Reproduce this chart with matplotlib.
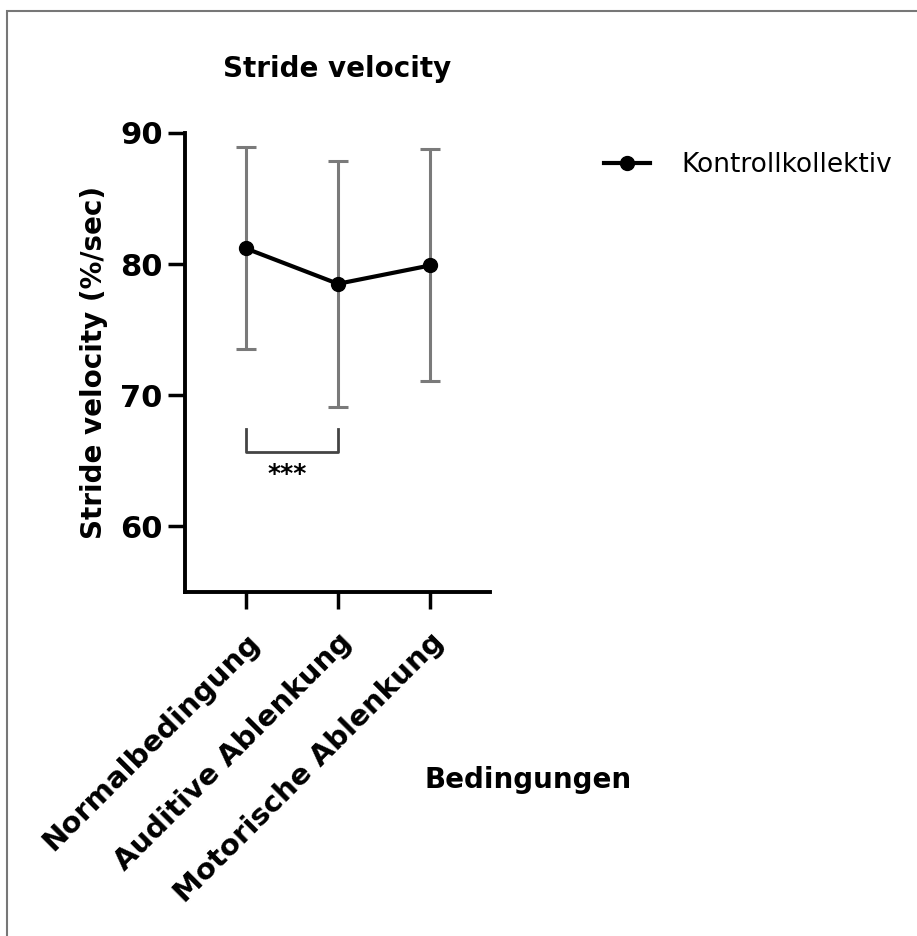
import matplotlib.pyplot as plt
from matplotlib.patches import Rectangle

plt.rcParams['font.family'] = ['DejaVu Sans']

conditions = ["Normalbedingung", "Auditive Ablenkung", "Motorische Ablenkung"]
means = [81.2, 78.5, 79.9]
err_low = [73.5, 69.1, 71.1]
err_high = [88.9, 87.9, 88.8]
yticks = [60, 70, 80, 90]

W, H = 917, 936
fig = plt.figure(figsize=(W / 100, H / 100), dpi=100)

# outer frame (only top and left visible in the original)
fig.patches.append(Rectangle((7 / W, -0.1), 1.2, 1 - 11 / H + 0.1, transform=fig.transFigure,
                             fill=False, edgecolor="#777777", linewidth=1.5))

ax = fig.add_axes([185 / W, 1 - 592 / H, (490 - 185) / W, (592 - 133) / H])
x = list(range(len(conditions)))
yerr = [[m - l for m, l in zip(means, err_low)], [h - m for m, h in zip(means, err_high)]]
ax.errorbar(x, means, yerr=yerr, fmt="none", ecolor="#7a7a7a", elinewidth=2.2,
            capsize=7, capthick=2.2, zorder=2)
ax.plot(x, means, color="black", lw=3, marker="o", markersize=10, zorder=3,
        label="Kontrollkollektiv")

ax.set_xlim(-0.66, 2.65)
ax.set_ylim(55, 90)
ax.set_yticks(yticks)
ax.set_xticks(x)
ax.set_xticklabels(conditions, rotation=45, ha="right", rotation_mode="anchor",
                   fontsize=21, fontweight="bold")
for lab in ax.get_yticklabels():
    lab.set_fontsize(22)
    lab.set_fontweight("bold")
ax.tick_params(direction="out", length=12, width=2.5, pad=4)
ax.tick_params(axis="x", pad=14)
ax.spines["top"].set_visible(False)
ax.spines["right"].set_visible(False)
ax.spines["left"].set_linewidth(2.8)
ax.spines["bottom"].set_linewidth(2.8)
ax.spines["left"].set_bounds(55, 90)

ax.set_title("Stride velocity", fontsize=20, fontweight="bold", pad=40)
ax.set_ylabel("Stride velocity (%/sec)", fontsize=20, fontweight="bold", labelpad=9)
ax.set_xlabel("Bedingungen", fontsize=20, fontweight="bold")
ax.xaxis.set_label_coords((528 - 185) / (490 - 185), (592 - 766) / (592 - 133))

# significance bracket
ax.plot([0, 0, 1, 1], [67.4, 65.7, 65.7, 67.4], color="#444444", lw=2, clip_on=False)
ax.text(0.45, 64.0, "***", ha="center", va="center", fontsize=18, fontweight="bold")

leg = ax.legend(loc="upper left", bbox_to_anchor=(580 / W, 1 - 128 / H),
                bbox_transform=fig.transFigure, frameon=False, fontsize=19,
                handlelength=1.75, handletextpad=1.2)

fig.savefig("out.png", dpi=100, facecolor="white")
